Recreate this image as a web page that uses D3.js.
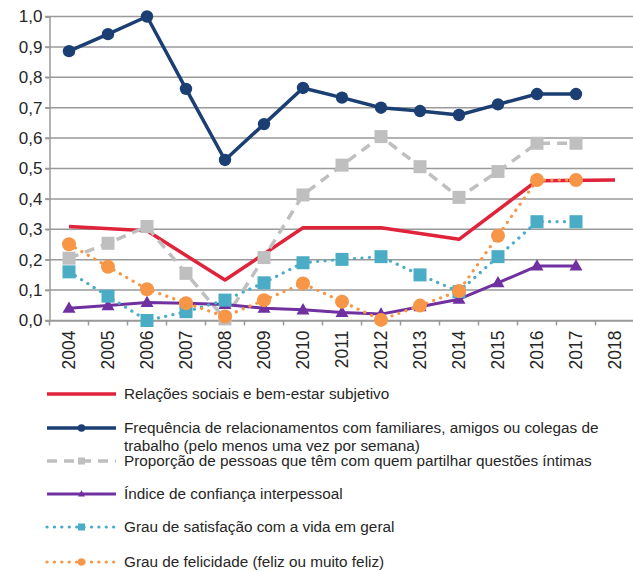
<!DOCTYPE html>
<html><head><meta charset="utf-8">
<script src="https://cdn.jsdelivr.net/npm/d3@7"></script>
<style>body{margin:0;background:#fff}svg{display:block}</style>
</head><body>
<script>
const years = ["2004","2005","2006","2007","2008","2009","2010","2011","2012","2013","2014","2015","2016","2017","2018"];
const yTicks = [0,0.1,0.2,0.3,0.4,0.5,0.6,0.7,0.8,0.9,1.0];

const relacoes     = [0.309,null,0.295,null,0.133,null,0.305,null,0.305,null,0.267,null,0.460,null,0.462];
const frequencia   = [0.886,0.942,1.000,0.762,0.528,0.646,0.765,0.733,0.700,0.689,0.676,0.711,0.745,0.745,null];
const proporcao    = [0.205,0.254,0.309,0.155,0.005,0.207,0.413,0.511,0.605,0.506,0.405,0.490,0.583,0.583,null];
const confianca    = [0.040,0.049,0.059,0.057,0.053,0.040,0.035,0.026,0.021,0.045,0.070,0.124,0.179,0.179,null];
const satisfacao   = [0.160,0.080,0.000,0.029,0.067,0.124,0.190,0.201,0.210,0.150,0.095,0.210,0.325,0.325,null];
const felicidade   = [0.251,0.177,0.103,0.057,0.013,0.067,0.122,0.062,0.002,0.049,0.097,0.279,0.462,0.462,null];

const seriesNames = [
  "Relações sociais e bem-estar subjetivo",
  "Frequência de relacionamentos com familiares, amigos ou colegas de|trabalho (pelo menos uma vez por semana)",
  "Proporção de pessoas que têm com quem partilhar questões íntimas",
  "Índice de confiança interpessoal",
  "Grau de satisfação com a vida em geral",
  "Grau de felicidade (feliz ou muito feliz)"
];

const styles = [
  {color:"#E0233A", width:3.5, dash:null, cap:"butt", marker:null},
  {color:"#1B3F73", width:3.5, dash:null, cap:"butt", marker:"circle", size:6.2},
  {color:"#BFBFBF", width:3.5, dash:"10,7", cap:"butt", marker:"square", size:13},
  {color:"#7030A0", width:3, dash:null, cap:"butt", marker:"triangle", size:13},
  {color:"#4BACC6", width:3.2, dash:"0.1,7.3", cap:"round", marker:"square", size:13},
  {color:"#F79646", width:3.2, dash:"0.1,7.3", cap:"round", marker:"circle", size:7}
];
const data = [relacoes, frequencia, proporcao, confianca, satisfacao, felicidade];

const W = 633, H = 571;
const svg = d3.select("body").append("svg").attr("width", W).attr("height", H);

const x = d3.scaleBand().domain(years).range([49.5, 634.5]);
const y = d3.scaleLinear().domain([0, 1]).range([320.5, 16.5]);
const font = "'Liberation Sans', Arial, sans-serif";

// gridlines
svg.append("g").selectAll("line").data(yTicks).join("line")
  .attr("x1", 45).attr("x2", W).attr("y1", d => y(d)).attr("y2", d => y(d))
  .attr("stroke", "#9A9A9A").attr("stroke-width", 1.5);

// y axis
const yAxis = svg.append("g").attr("transform", "translate(49.5,0)")
  .call(d3.axisLeft(y).tickValues(yTicks).tickSize(4).tickPadding(3)
    .tickFormat(d => d3.format(".1f")(d).replace(".", ",")));
yAxis.select(".domain").attr("stroke", "#9A9A9A").attr("stroke-width", 1.5);
yAxis.selectAll(".tick line").attr("stroke", "#9A9A9A").attr("stroke-width", 1.5);
yAxis.selectAll("text").attr("font-family", font).attr("font-size", 17).attr("fill", "#262626");

// x axis
const xAxis = svg.append("g").attr("transform", "translate(0,320.5)")
  .call(d3.axisBottom(x).tickSize(0).tickPadding(0));
xAxis.select(".domain").attr("stroke", "#9A9A9A").attr("stroke-width", 1.5);
xAxis.selectAll(".tick line").remove();
xAxis.selectAll("text").attr("font-family", font).attr("font-size", 17.5).attr("fill", "#262626")
  .attr("transform", "rotate(-90)").attr("text-anchor", "end").attr("dy", "0.35em").attr("x", -10).attr("y", 0);
// band boundary ticks
const bounds = years.map(d => x(d)).concat([x(years[years.length-1]) + x.bandwidth()]);
xAxis.append("g").selectAll("line").data(bounds).join("line")
  .attr("x1", d => d).attr("x2", d => d).attr("y1", 0).attr("y2", 5)
  .attr("stroke", "#9A9A9A").attr("stroke-width", 1.5);

const cx = i => x(years[i]) + x.bandwidth()/2;

function drawMarker(g, type, size, color, px, py) {
  if (type === "circle") {
    g.append("circle").attr("cx", px).attr("cy", py).attr("r", size).attr("fill", color);
  } else if (type === "square") {
    g.append("rect").attr("x", px - size/2).attr("y", py - size/2).attr("width", size).attr("height", size).attr("fill", color);
  } else if (type === "triangle") {
    const h = size * 0.87;
    g.append("path").attr("d", `M${px},${py - h*0.6}L${px + size/2},${py + h*0.4}L${px - size/2},${py + h*0.4}Z`).attr("fill", color);
  }
}

data.forEach((vals, si) => {
  const st = styles[si];
  const pts = vals.map((v, i) => ({i, v})).filter(p => p.v !== null);
  const g = svg.append("g");
  const line = d3.line().x(p => cx(p.i)).y(p => y(p.v));
  g.append("path").datum(pts).attr("d", line).attr("fill", "none")
    .attr("stroke", st.color).attr("stroke-width", st.width)
    .attr("stroke-linecap", st.cap).attr("stroke-linejoin", "round")
    .attr("stroke-dasharray", st.dash);
  if (st.marker) pts.forEach(p => drawMarker(g, st.marker, st.size, st.color, cx(p.i), y(p.v)));
});

// legend
const legendY = [394, 428, 461, 494, 527, 562];
const lg = svg.append("g");
seriesNames.forEach((name, si) => {
  const st = styles[si];
  const ly = legendY[si];
  lg.append("line").attr("x1", 47).attr("x2", 116).attr("y1", ly).attr("y2", ly)
    .attr("stroke", st.color).attr("stroke-width", st.width)
    .attr("stroke-linecap", st.cap).attr("stroke-dasharray", st.dash);
  if (st.marker) {
    const s = st.marker === "circle" ? 3.8 : 7;
    drawMarker(lg, st.marker, s, st.color, 81.5, ly);
  }
  const parts = name.split("|");
  const t = lg.append("text").attr("x", 124).attr("y", ly)
    .attr("font-family", font).attr("font-size", 15.3).attr("fill", "#262626");
  parts.forEach((p, k) => {
    t.append("tspan").attr("x", 124).attr("dy", k === 0 ? "0.35em" : "1.15em").text(p);
  });
});
</script>
</body></html>
